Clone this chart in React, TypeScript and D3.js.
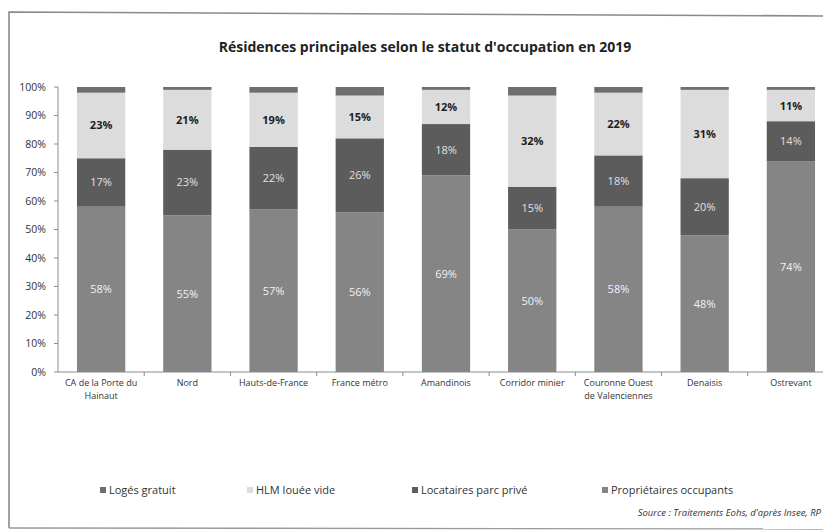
import React from "react";
import * as d3 from "d3";

const categories = [
  "CA de la Porte du|Hainaut",
  "Nord",
  "Hauts-de-France",
  "France métro",
  "Amandinois",
  "Corridor minier",
  "Couronne Ouest|de Valenciennes",
  "Denaisis",
  "Ostrevant",
];
const proprietaires = [58, 55, 57, 56, 69, 50, 58, 48, 74];
const locataires = [17, 23, 22, 26, 18, 15, 18, 20, 14];
const hlm = [23, 21, 19, 15, 12, 32, 22, 31, 11];
const gratuit = [2, 1, 2, 3, 1, 3, 2, 1, 1];
const yTicks = [0, 10, 20, 30, 40, 50, 60, 70, 80, 90, 100];
const legendLabels = ["Logés gratuit", "HLM louée vide", "Locataires parc privé", "Propriétaires occupants"];

const keys = ["proprietaires", "locataires", "hlm", "gratuit"];
const colors: Record<string, string> = {
  proprietaires: "#858585",
  locataires: "#5c5c5c",
  hlm: "#dcdcdc",
  gratuit: "#6e6e6e",
};
const labelColors: Record<string, string> = {
  proprietaires: "#f2f2f2",
  locataires: "#e0e0e0",
  hlm: "#1e1e1e",
};

export default function App() {
  const W = 823, H = 531;
  const font = "'Open Sans', 'Liberation Sans', sans-serif";
  const rows = categories.map((c, i) => ({
    cat: c,
    proprietaires: proprietaires[i],
    locataires: locataires[i],
    hlm: hlm[i],
    gratuit: gratuit[i],
  }));
  const stack = d3.stack<any>().keys(keys);
  const series = stack(rows);
  const x = d3.scaleBand().domain(categories).range([58, 834]).paddingInner(0.44).paddingOuter(0.22);
  const y = d3.scaleLinear().domain([0, 100]).range([372, 87]);
  const step = x.step();
  const legendX = [100, 247, 412, 602];
  const legendColorKeys = ["gratuit", "hlm", "locataires", "proprietaires"];

  return (
    <svg width={W} height={H} style={{ position: "absolute", left: 0, top: 0, background: "#fff" }} fontFamily={font}>
      <rect x={0} y={0} width={W} height={H} fill="#fff" />
      {/* frame */}
      <path d={`M 9 528 L 9 12 L 830 16`} fill="none" stroke="#8a8a8a" strokeWidth={1.6} />
      <line x1={9} y1={528} x2={830} y2={529} stroke="#9a9a9a" strokeWidth={1.4} />
      {/* title */}
      <text x={425} y={52} textAnchor="middle" fontSize={14} fontWeight="bold" fill="#222">
        Résidences principales selon le statut d'occupation  en 2019
      </text>
      {/* y axis */}
      <line x1={58} y1={y(100)} x2={58} y2={y(0)} stroke="#8c8c8c" strokeWidth={1} />
      {yTicks.map((t) => (
        <g key={t}>
          <line x1={54} x2={58} y1={y(t)} y2={y(t)} stroke="#8c8c8c" />
          <text x={46} y={y(t) + 3.5} textAnchor="end" fontSize={10.5} fill="#333">
            {t}%
          </text>
        </g>
      ))}
      {/* x axis */}
      <line x1={58} y1={y(0)} x2={W} y2={y(0)} stroke="#8c8c8c" strokeWidth={1} />
      {categories.map((c, i) => {
        const bx = (x(c) as number) - (step - x.bandwidth()) / 2 + step;
        return <line key={"t" + i} x1={bx} x2={bx} y1={y(0)} y2={y(0) + 4} stroke="#8c8c8c" />;
      })}
      {/* bars */}
      {series.map((s) => (
        <g key={s.key} fill={colors[s.key]}>
          {s.map((d, i) => (
            <rect
              key={i}
              x={x(categories[i])}
              width={x.bandwidth()}
              y={y(d[1])}
              height={y(d[0]) - y(d[1])}
            />
          ))}
        </g>
      ))}
      {/* data labels */}
      {series
        .filter((s) => s.key !== "gratuit")
        .map((s) => (
          <g key={"l" + s.key}>
            {s.map((d, i) => (
              <text
                key={i}
                x={(x(categories[i]) as number) + x.bandwidth() / 2}
                y={y((d[0] + d[1]) / 2) + 4}
                textAnchor="middle"
                fontSize={11}
                fontWeight={s.key === "hlm" ? "bold" : "normal"}
                fill={labelColors[s.key]}
              >
                {Math.round(d[1] - d[0])}%
              </text>
            ))}
          </g>
        ))}
      {/* x labels */}
      {categories.map((c, i) => {
        const cx = (x(c) as number) + x.bandwidth() / 2;
        return (
          <text key={"x" + i} x={cx} y={386} textAnchor="middle" fontSize={9} fill="#333">
            {c.split("|").map((ln, j) => (
              <tspan key={j} x={cx} dy={j === 0 ? 0 : 13}>
                {ln}
              </tspan>
            ))}
          </text>
        );
      })}
      {/* legend */}
      {legendLabels.map((l, i) => (
        <g key={"lg" + i}>
          <rect x={legendX[i]} y={487} width={6} height={6} fill={colors[legendColorKeys[i]]} />
          <text x={legendX[i] + 9} y={494} fontSize={11} fill="#333">
            {l}
          </text>
        </g>
      ))}
      <text x={821} y={516} textAnchor="end" fontSize={9.5} fontStyle="italic" fill="#333">
        Source : Traitements Eohs, d'après Insee, RP
      </text>
    </svg>
  );
}
